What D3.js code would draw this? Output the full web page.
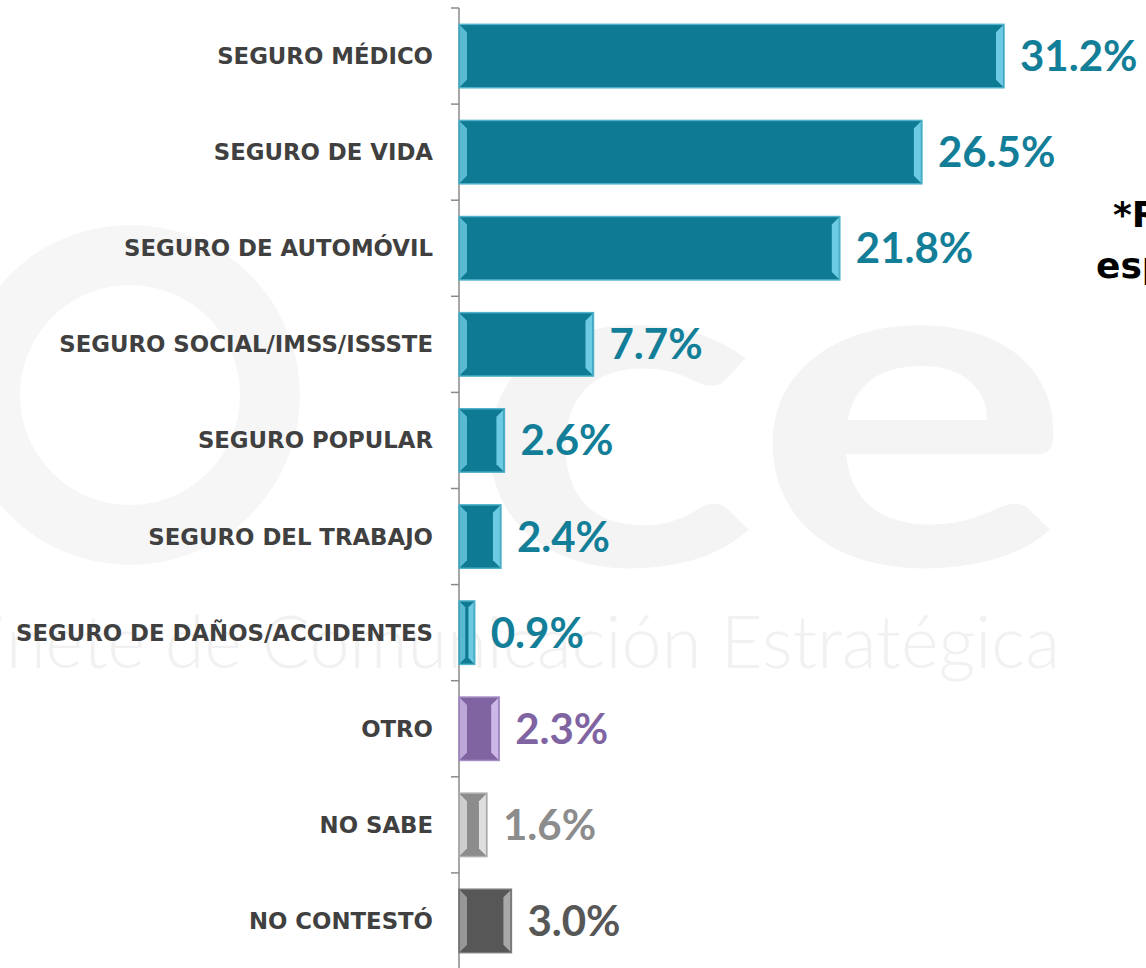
<!DOCTYPE html>
<html>
<head>
<meta charset="utf-8">
<script src="https://cdn.jsdelivr.net/npm/d3@7"></script>
<style>
  body { margin: 0; background: #fff; overflow: hidden; }
  svg { display: block; }
</style>
</head>
<body>
<div id="chart"></div>
<script>
var svgWidth = 1146;
var svgHeight = 968;

// data
var categories = ["SEGURO MÉDICO", "SEGURO DE VIDA", "SEGURO DE AUTOMÓVIL", "SEGURO SOCIAL/IMSS/ISSSTE",
    "SEGURO POPULAR", "SEGURO DEL TRABAJO", "SEGURO DE DAÑOS/ACCIDENTES", "OTRO", "NO SABE", "NO CONTESTÓ"];
var values = [31.2, 26.5, 21.8, 7.7, 2.6, 2.4, 0.9, 2.3, 1.6, 3.0];
var valueLabels = ["31.2%", "26.5%", "21.8%", "7.7%", "2.6%", "2.4%", "0.9%", "2.3%", "1.6%", "3.0%"];
var groups = ["seguro", "seguro", "seguro", "seguro", "seguro", "seguro", "seguro", "otro", "nosabe", "nocontesto"];

var palette = {
    seguro:     {fill: "#0f7a93", light: "#6ccbe2", edge: "#4fb2ca", text: "#137e98"},
    otro:       {fill: "#8064a2", light: "#cbb8e6", edge: "#a58ec4", text: "#8064a2"},
    nosabe:     {fill: "#8c8c8c", light: "#dedede", edge: "#b0b0b0", text: "#8c8c8c"},
    nocontesto: {fill: "#575757", light: "#a8a8a8", edge: "#7a7a7a", text: "#575757"}
};

var axisX = 459;

var svg = d3.select("#chart")
    .append("svg")
    .attr("width", svgWidth)
    .attr("height", svgHeight);

// faint watermark in the background
var wm = svg.append("g").attr("class", "watermark");
wm.append("circle")
    .attr("cx", 130).attr("cy", 395).attr("r", 140)
    .attr("fill", "none").attr("stroke", "#f6f6f6").attr("stroke-width", 60);
wm.append("text")
    .attr("transform", "translate(470,565) scale(1.3,1)")
    .style("font-family", "Lato, sans-serif").style("font-weight", 700)
    .style("font-size", "460px").attr("fill", "#f4f4f4")
    .text("ce");
wm.append("text")
    .attr("x", 1060).attr("y", 668)
    .attr("text-anchor", "end")
    .style("font-family", "Lato, sans-serif").style("font-weight", 300)
    .style("font-size", "72px").attr("fill", "#f1f1f1")
    .text("Gabinete de Comunicación Estratégica");

// scales
var yScale = d3.scaleBand()
    .domain(categories)
    .range([8, 969])
    .paddingInner(0.34)
    .paddingOuter(0.17);

var xScale = d3.scaleLinear()
    .domain([0, 31.2])
    .range([axisX, 1004]);

var data = categories.map(function(c, i) {
    return {cat: c, value: values[i], label: valueLabels[i], group: groups[i]};
});

// axis line and ticks at band boundaries
var step = yScale.step();
var tickYs = d3.range(categories.length + 1).map(function(i) { return 8 + i * step; });
svg.append("line")
    .attr("x1", axisX).attr("x2", axisX)
    .attr("y1", 8).attr("y2", svgHeight)
    .attr("stroke", "#8a8a8a").attr("stroke-width", 1.5);
svg.selectAll(".tick")
    .data(tickYs)
    .enter()
    .append("line")
    .attr("class", "tick")
    .attr("x1", axisX - 8).attr("x2", axisX)
    .attr("y1", d => d).attr("y2", d => d)
    .attr("stroke", "#8a8a8a").attr("stroke-width", 1.5);

// bars with a bevel look
var bh = yScale.bandwidth();
var barG = svg.selectAll(".bar")
    .data(data)
    .enter()
    .append("g")
    .attr("class", "bar");

barG.append("rect")
    .attr("x", axisX)
    .attr("y", d => yScale(d.cat))
    .attr("width", d => xScale(d.value) - axisX)
    .attr("height", bh)
    .attr("fill", d => palette[d.group].fill)
    .attr("stroke", d => palette[d.group].edge)
    .attr("stroke-width", 1.5);

// left bevel
barG.append("path")
    .attr("d", function(d) {
        var x0 = axisX + 1, y0 = yScale(d.cat) + 1, w = Math.min(7, (xScale(d.value) - axisX) / 3), h = bh - 2;
        return "M" + x0 + "," + y0 + "L" + (x0 + w) + "," + (y0 + w) + "L" + (x0 + w) + "," + (y0 + h - w) + "L" + x0 + "," + (y0 + h) + "Z";
    })
    .attr("fill", d => palette[d.group].light)
    .attr("opacity", 0.8);

// right bevel
barG.append("path")
    .attr("d", function(d) {
        var x1 = xScale(d.value) - 1, y0 = yScale(d.cat) + 1, w = Math.min(7, (xScale(d.value) - axisX) / 3), h = bh - 2;
        return "M" + x1 + "," + y0 + "L" + (x1 - w) + "," + (y0 + w) + "L" + (x1 - w) + "," + (y0 + h - w) + "L" + x1 + "," + (y0 + h) + "Z";
    })
    .attr("fill", d => palette[d.group].light);

// category labels
svg.selectAll(".cat-label")
    .data(data)
    .enter()
    .append("text")
    .attr("class", "cat-label")
    .attr("x", 433)
    .attr("y", d => yScale(d.cat) + bh / 2 + 8)
    .attr("text-anchor", "end")
    .style("font-family", "'DejaVu Sans', sans-serif")
    .style("font-weight", 700)
    .style("font-size", "22.8px")
    .attr("fill", "#404040")
    .text(d => d.cat);

// value labels
svg.selectAll(".val-label")
    .data(data)
    .enter()
    .append("text")
    .attr("class", "val-label")
    .attr("x", d => xScale(d.value) + 16)
    .attr("y", d => yScale(d.cat) + bh / 2 + 15)
    .style("font-family", "Lato, sans-serif")
    .style("font-weight", 700)
    .style("font-size", "42px")
    .attr("fill", d => palette[d.group].text)
    .text(d => d.label);

// note at right, cut by the picture edge
svg.append("text")
    .attr("x", 1113).attr("y", 227)
    .style("font-family", "'DejaVu Sans', sans-serif")
    .style("font-weight", 700).style("font-size", "36px")
    .attr("fill", "#000")
    .text("*Respuesta múltiple");
svg.append("text")
    .attr("x", 1096).attr("y", 278)
    .style("font-family", "'DejaVu Sans', sans-serif")
    .style("font-weight", 700).style("font-size", "36px")
    .attr("fill", "#000")
    .text("espontánea");
</script>
</body>
</html>
